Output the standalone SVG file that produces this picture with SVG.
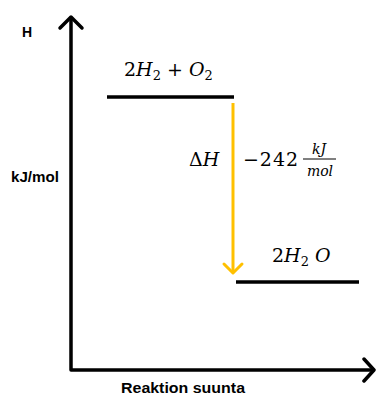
<svg xmlns="http://www.w3.org/2000/svg" width="376" height="396" viewBox="0 0 376 396">
<style>
.ax{stroke:#000;stroke-width:3.5;fill:none;stroke-linecap:round;stroke-linejoin:round}
.lvl{stroke:#000;stroke-width:3.5;fill:none}
.lbl{font-family:"Liberation Sans",Arial,sans-serif;font-weight:bold;font-size:14px;fill:#000}
.m{font-family:"DejaVu Serif","Liberation Serif",serif;font-style:italic;font-size:19px;fill:#000}
.mu{font-family:"DejaVu Serif","Liberation Serif",serif;font-size:19px;fill:#000}
.sub{font-size:13px}
.fr{font-family:"DejaVu Serif","Liberation Serif",serif;font-style:italic;font-size:14px;fill:#000}
</style>
<g id="connectors">
<path class="ax" d="M71,18 V370 H373"/>
<path class="ax" d="M60,28 L71,17 L82,28"/>
<path class="ax" d="M364,359 L374,370 L364,381"/>
<path d="M233,103 V273" stroke="#FFC000" stroke-width="3" fill="none"/>
<path d="M224,264 L233,273 L242,264" stroke="#FFC000" stroke-width="3" fill="none" stroke-linecap="round" stroke-linejoin="round"/>
</g>
<g id="axis-labels">
<text class="lbl" x="22" y="37">H</text>
<text class="lbl" x="11" y="182" textLength="48" lengthAdjust="spacingAndGlyphs">kJ/mol</text>
<text class="lbl" x="121" y="393" textLength="124" lengthAdjust="spacingAndGlyphs">Reaktion suunta</text>
</g>
<g id="reactants">
<line class="lvl" x1="107" y1="97" x2="234" y2="97"/>
<text x="124" y="76" class="mu">2<tspan class="m">H</tspan><tspan class="sub" dy="4">2</tspan><tspan dy="-4"> + </tspan><tspan class="m">O</tspan><tspan class="sub" dy="4">2</tspan></text>
</g>
<g id="delta">
<text x="189" y="166" class="mu">Δ<tspan class="m">H</tspan></text>
<text x="243" y="166" class="mu" textLength="55">−242</text>
<text x="319" y="154" class="fr" text-anchor="middle">kJ</text>
<line x1="303" y1="159" x2="336" y2="159" stroke="#000" stroke-width="1"/>
<text x="320" y="176" class="fr" text-anchor="middle">mol</text>
</g>
<g id="product">
<line class="lvl" x1="236" y1="282" x2="359" y2="282"/>
<text x="272" y="262" class="mu">2<tspan class="m">H</tspan><tspan class="sub" dy="4">2</tspan><tspan dy="-4"> </tspan><tspan class="m">O</tspan></text>
</g>
</svg>
